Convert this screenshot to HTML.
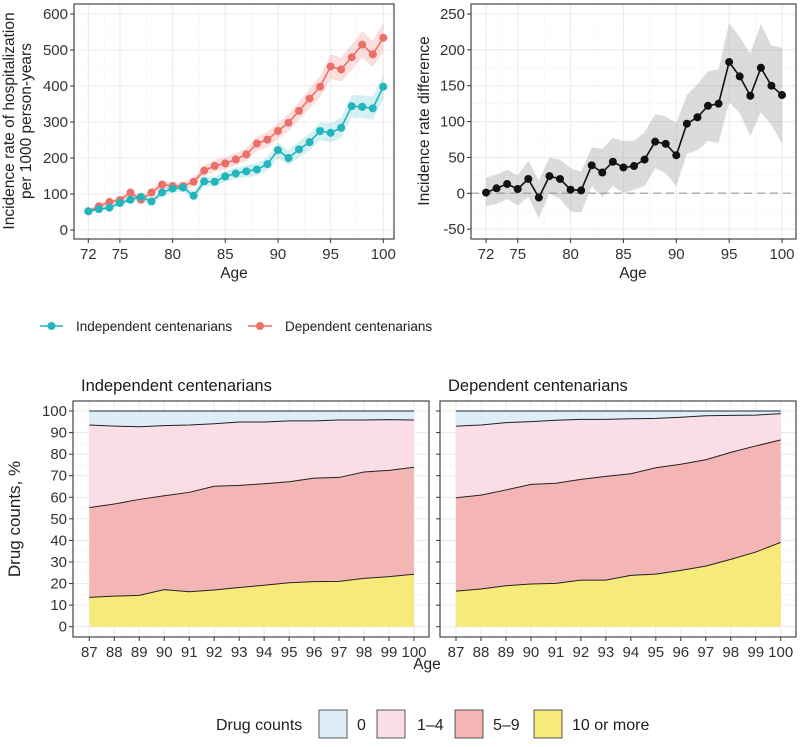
<!DOCTYPE html>
<html><head><meta charset="utf-8"><style>
body{margin:0;background:#fff;width:800px;height:742px;overflow:hidden;font-family:"Liberation Sans",sans-serif}
svg text{font-family:"Liberation Sans",sans-serif}
</style></head><body>
<svg id="c" width="800" height="742" viewBox="0 0 800 742" xmlns="http://www.w3.org/2000/svg"></svg>
<script>
const ages=[72,73,74,75,76,77,78,79,80,81,82,83,84,85,86,87,88,89,90,91,92,93,94,95,96,97,98,99,100];
const depRate=[52,66,78,83,104,84,104,126,122,122,134,165,178,185,196,210,240,251,275,298,331,365,398,454,446,480,515,488,534];
const depHi=[58,72,85,92,112,95,114,137,133,133,146,180,195,202,213,228,260,272,298,322,356,392,428,488,480,515,552,525,575];
const depLo=[46,60,71,75,95,73,94,115,111,111,122,150,162,168,179,192,220,230,252,274,306,338,368,420,412,446,478,452,494];
const indRate=[52,58,62,75,84,92,79,104,115,118,95,135,134,149,157,163,168,183,222,200,224,244,275,270,284,344,342,338,398];
const indHi=[57,64,69,83,93,102,89,114,126,129,107,149,148,164,173,180,186,202,244,221,246,268,300,296,312,375,374,370,432];
const indLo=[47,52,56,67,76,82,70,94,104,107,84,122,121,134,141,147,151,165,200,180,202,221,250,244,257,313,311,306,364];
const diff=[1,7,13,6,20,-6,24,20,5,4,39,29,44,36,38,47,72,69,53,97,106,122,125,183,163,136,175,150,137];
const diffHi=[22,26,33,25,45,18,50,47,35,30,64,62,77,73,73,85,110,107,98,137,152,170,173,237,218,195,236,206,203];
const diffLo=[-18,-15,-8,-17,-5,-35,0,-8,-25,-27,10,-5,10,0,5,10,35,28,10,55,60,73,70,127,112,80,113,95,70];
const topXTicks=[72,75,80,85,90,95,100];
const rateTicks=[0,100,200,300,400,500,600];
const diffTicks=[-50,0,50,100,150,200,250];
const dAges=[87,88,89,90,91,92,93,94,95,96,97,98,99,100];
const pctTicks=[0,10,20,30,40,50,60,70,80,90,100];
const drugCats=["0","1–4","5–9","10 or more"];
const indZero=[6.5,7,7.3,6.8,6.5,5.9,5.1,5.1,4.6,4.6,4.2,4.2,4,4.2];
const indOneFour=[38.3,36.1,33.7,32.5,31.2,29,29.4,28.6,28.2,26.5,26.6,24.1,23.5,21.9];
const indFiveNine=[41.6,42.7,44.5,43.5,46.1,48.1,47.3,47.1,46.8,48,48.2,49.3,49.3,49.6];
const indTen=[13.6,14.2,14.5,17.2,16.2,17,18.2,19.2,20.4,20.9,21,22.4,23.2,24.3];
const depZero=[7,6.5,5.4,4.9,4.3,3.9,3.9,3.6,3.4,2.9,2.2,2,1.9,1.2];
const depOneFour=[33.2,32.5,31.2,29.1,29.2,27.8,26.4,25.5,22.9,21.8,20.4,17.2,14.3,12.2];
const depFiveNine=[43.3,43.5,44.4,46.2,46.4,46.7,48.1,47.1,49.3,49.2,49.3,49.6,49.2,47.5];
const depTen=[16.5,17.5,19,19.8,20.1,21.6,21.6,23.8,24.4,26.1,28.1,31.2,34.6,39.1];

const NS="http://www.w3.org/2000/svg", svg=document.getElementById('c');
function mk(tag,attrs,parent,name){const e=document.createElementNS(NS,tag);for(const k in attrs)e.setAttribute(k,attrs[k]);(parent||svg).appendChild(e);


return e;}
function txt(s,x,y,attrs,name){const t=mk('text',Object.assign({x:x,y:y,'font-size':13,fill:'#333'},attrs||{}),null,name);t.textContent=s;return t;}
function lin(d0,d1,r0,r1){return v=>r0+(v-d0)/(d1-d0)*(r1-r0);}

function panel(box,xs,ys,xt,yt,xminor,yminor,name){
  mk('rect',{x:box.l,y:box.t,width:box.r-box.l,height:box.b-box.t,fill:'#fff'},null,name+'-background');
  const g=mk('g',{},null,name+'-grid');
  yminor.forEach(v=>mk('line',{x1:box.l,x2:box.r,y1:ys(v),y2:ys(v),stroke:'#f3f3f3','stroke-width':0.6},g,'minor-gridline'));
  xminor.forEach(v=>mk('line',{y1:box.t,y2:box.b,x1:xs(v),x2:xs(v),stroke:'#f3f3f3','stroke-width':0.6},g,'minor-gridline'));
  yt.forEach(v=>mk('line',{x1:box.l,x2:box.r,y1:ys(v),y2:ys(v),stroke:'#ebebeb','stroke-width':1.1},g,'major-gridline'));
  xt.forEach(v=>mk('line',{y1:box.t,y2:box.b,x1:xs(v),x2:xs(v),stroke:'#ebebeb','stroke-width':1.1},g,'major-gridline'));
}
function frame(box,xs,ys,xt,yt,name,noY){
  mk('rect',{x:box.l,y:box.t,width:box.r-box.l,height:box.b-box.t,fill:'none',stroke:'#333','stroke-width':1.1},null,name+'-border');
  yt.forEach(v=>{mk('line',{x1:box.l-4,x2:box.l,y1:ys(v),y2:ys(v),stroke:'#333'},null,'y-tick');if(!noY)txt(String(v),box.l-6,ys(v)+5,{'text-anchor':'end','font-size':15},'y-tick-label');});
  xt.forEach(v=>{mk('line',{y1:box.b,y2:box.b+4,x1:xs(v),x2:xs(v),stroke:'#333'},null,'x-tick');txt(String(v),xs(v),box.b+20,{'text-anchor':'middle','font-size':15},'x-tick-label');});
}
function pts(xa,ya,xs,ys){return xa.map((a,i)=>xs(a)+','+ys(ya[i])).join(' ');}
function band(xa,lo,hi,xs,ys,fill,op,name){const p=xa.map((a,i)=>xs(a)+','+ys(hi[i])).concat(xa.slice().reverse().map((a,j)=>xs(a)+','+ys(lo[xa.length-1-j])));mk('polygon',{points:p.join(' '),fill:fill,'fill-opacity':op},null,name);}
function series(xa,ya,xs,ys,col,name){mk('polyline',{points:pts(xa,ya,xs,ys),fill:'none',stroke:col,'stroke-width':1.6},null,name+'-line');
  xa.forEach((a,i)=>mk('circle',{cx:xs(a),cy:ys(ya[i]),r:4,fill:col},null,name+'-point'));}

const TEAL='#22b5bd', RED='#ec6f67';
const b1={l:74,r:394,t:4,b:239};
const x1=lin(72,100,88.3,383.3), y1=lin(0,600,230,14);
const xMinorTop=[73.5,77.5,82.5,87.5,92.5,97.5];
panel(b1,x1,y1,topXTicks,rateTicks,xMinorTop,[50,150,250,350,450,550],'rate-panel');
band(ages,depLo,depHi,x1,y1,RED,0.22,'dependent-ci-band');
band(ages,indLo,indHi,x1,y1,TEAL,0.2,'independent-ci-band');
series(ages,depRate,x1,y1,RED,'dependent-series');
series(ages,indRate,x1,y1,TEAL,'independent-series');
frame(b1,x1,y1,topXTicks,rateTicks,'rate-panel');
txt('Age',234,278,{'text-anchor':'middle','font-size':15.5,fill:'#222'},'x-axis-title');
const yt1=txt('',0,0,{'text-anchor':'middle','font-size':15.5,fill:'#222',transform:'translate(14,121) rotate(-90)'},'y-axis-title');
yt1.innerHTML='<tspan x="0" y="0">Incidence rate of hospitalization</tspan><tspan x="0" y="17">per 1000 person-years</tspan>';

const b2={l:471,r:796,t:4,b:239};
const x2=lin(72,100,486,782), y2=lin(0,250,193.3,14);
panel(b2,x2,y2,topXTicks,diffTicks,xMinorTop,[-25,25,75,125,175,225],'diff-panel');
mk('line',{x1:b2.l,x2:b2.r,y1:y2(0),y2:y2(0),stroke:'#b0b0b0','stroke-width':1.5,'stroke-dasharray':'8,5'},null,'zero-reference-line');
band(ages,diffLo,diffHi,x2,y2,'#999',0.35,'difference-ci-band');
series(ages,diff,x2,y2,'#111','difference-series');
frame(b2,x2,y2,topXTicks,diffTicks,'diff-panel');
txt('Age',633,278,{'text-anchor':'middle','font-size':15.5,fill:'#222'},'x-axis-title-right');
txt('Incidence rate difference',0,0,{'text-anchor':'middle','font-size':15.5,fill:'#222',transform:'translate(429,121) rotate(-90)'},'y-axis-title-right');

mk('line',{x1:40,x2:63,y1:326,y2:326,stroke:TEAL,'stroke-width':1.6},null,'legend-independent-key');
mk('circle',{cx:51.5,cy:326,r:4,fill:TEAL},null,'legend-independent-dot');
txt('Independent centenarians',76,331,{'font-size':13.5,fill:'#222'},'legend-independent-label');
mk('line',{x1:248,x2:272,y1:326,y2:326,stroke:RED,'stroke-width':1.6},null,'legend-dependent-key');
mk('circle',{cx:260,cy:326,r:4,fill:RED},null,'legend-dependent-dot');
txt('Dependent centenarians',285,331,{'font-size':13.5,fill:'#222'},'legend-dependent-label');

const FILLS=['#ddeef8','#fbdde6','#f4b5b5','#f6ea7a'];
const yb=lin(0,100,626.7,411);
function stack(box,xs,layers,name,noY){
  const xMin=dAges.map((a,i)=>a+0.5).slice(0,-1);
  panel(box,xs,yb,dAges,pctTicks,xMin,[5,15,25,35,45,55,65,75,85,95],name);
  let base=dAges.map(()=>0);
  const fillIdx=[3,2,1,0];
  layers.forEach((L,k)=>{const top=base.map((b,i)=>b+L[i]);
    band(dAges,base,top,xs,yb,FILLS[fillIdx[k]],1,name+'-area-'+drugCats[fillIdx[k]]);
    base=top;});
  base=dAges.map(()=>0);
  layers.forEach((L,k)=>{const top=base.map((b,i)=>b+L[i]);
    mk('polyline',{points:pts(dAges,top,xs,yb),fill:'none',stroke:'#222','stroke-width':1},null,name+'-boundary');base=top;});
  frame(box,xs,yb,dAges,pctTicks,name,noY);
}
const b3={l:73,r:429,t:401,b:637}, x3=lin(87,100,89.3,414);
stack(b3,x3,[indTen,indFiveNine,indOneFour,indZero],'independent-stack',false);
const b4={l:440,r:796,t:401,b:637}, x4=lin(87,100,456,780.7);
stack(b4,x4,[depTen,depFiveNine,depOneFour,depZero],'dependent-stack',true);
txt('Independent centenarians',81,391,{'font-size':16.5,fill:'#1a1a1a'},'strip-independent');
txt('Dependent centenarians',448,391,{'font-size':16.5,fill:'#1a1a1a'},'strip-dependent');
txt('Age',427,669,{'text-anchor':'middle','font-size':15.5,fill:'#222'},'bottom-x-axis-title');
txt('Drug counts, %',0,0,{'text-anchor':'middle','font-size':17,fill:'#222',transform:'translate(20,519) rotate(-90)'},'bottom-y-axis-title');
txt('Drug counts',216,730,{'font-size':16,fill:'#222'},'legend-title');
const boxX=[319,377,455,534], lblX=[357,417,493,572];
drugCats.forEach((c,i)=>{mk('rect',{x:boxX[i],y:710,width:28,height:28,fill:FILLS[i],stroke:'#333','stroke-width':0.8},null,'legend-key-'+i);
  txt(c,lblX[i],730,{'font-size':16,fill:'#222'},'legend-label-'+i);});
</script>
</body></html>
